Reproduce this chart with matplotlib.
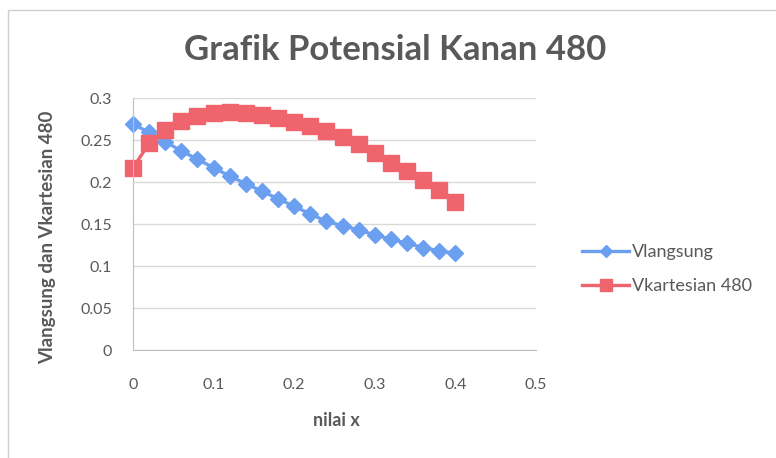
import matplotlib
matplotlib.use("Agg")
import matplotlib.pyplot as plt
from matplotlib.patches import Rectangle

# x positions and the two potential curves
nilai_x = [0.00, 0.02, 0.04, 0.06, 0.08, 0.10, 0.12, 0.14, 0.16, 0.18, 0.20,
           0.22, 0.24, 0.26, 0.28, 0.30, 0.32, 0.34, 0.36, 0.38, 0.40]
vlangsung = [0.269, 0.259, 0.248, 0.237, 0.227, 0.217, 0.207, 0.198, 0.189,
             0.180, 0.171, 0.162, 0.153, 0.148, 0.143, 0.137, 0.132, 0.127,
             0.122, 0.118, 0.115]
vkartesian = [0.217, 0.246, 0.262, 0.273, 0.279, 0.282, 0.283, 0.282, 0.280,
              0.276, 0.271, 0.267, 0.261, 0.254, 0.245, 0.234, 0.223, 0.213,
              0.202, 0.190, 0.176]

x_ticks = [0, 0.1, 0.2, 0.3, 0.4, 0.5]
x_tick_labels = ["0", "0.1", "0.2", "0.3", "0.4", "0.5"]
y_ticks = [0, 0.05, 0.1, 0.15, 0.2, 0.25, 0.3]
y_tick_labels = ["0", "0.05", "0.1", "0.15", "0.2", "0.25", "0.3"]

TEXT = "#595959"
GRID = "#d9d9d9"
BLUE = "#6b9ff0"
RED = "#f0646e"

plt.rcParams["font.family"] = ["Lato", "DejaVu Sans"]

W, H = 776, 458
fig = plt.figure(figsize=(W / 100, H / 100), dpi=100)
fig.patch.set_facecolor("white")

# chart frame
fig.patches.append(Rectangle((8 / W, -0.01), 1.1, 1 - 10 / H + 0.01,
                             transform=fig.transFigure, fill=False,
                             edgecolor="#d0d0d0", linewidth=1.0))

ax = fig.add_axes([133 / W, 1 - 350 / H, (536 - 133) / W, (350 - 98) / H])
ax.set_xlim(0, 0.5)
ax.set_ylim(0, 0.3)
ax.set_xticks(x_ticks)
ax.set_xticklabels(x_tick_labels)
ax.set_yticks(y_ticks)
ax.set_yticklabels(y_tick_labels)
ax.grid(axis="y", color=GRID, linewidth=1.0)
ax.set_axisbelow(True)
for side in ("top", "right"):
    ax.spines[side].set_visible(False)
for side in ("left", "bottom"):
    ax.spines[side].set_color("#bfbfbf")
ax.tick_params(length=0, colors=TEXT, labelsize=11.5)
ax.tick_params(axis="x", pad=20)
ax.tick_params(axis="y", pad=15)

ax.plot(nilai_x, vlangsung, color=BLUE, marker="D", markersize=8,
        linewidth=2.4, label="Vlangsung", clip_on=False)
ax.plot(nilai_x, vkartesian, color=RED, marker="s", markersize=11.5,
        linewidth=2.4, label="Vkartesian 480", clip_on=False)

fig.text(395 / W, 1 - 50 / H, "Grafik Potensial Kanan 480", ha="center",
         va="center", fontsize=25, fontweight="bold", color=TEXT)
fig.text(336 / W, 1 - 421 / H, "nilai x", ha="center", va="center",
         fontsize=13, fontweight="bold", color=TEXT)
fig.text(48 / W, 1 - 237 / H, "Vlangsung dan Vkartesian 480", ha="center",
         va="center", rotation=90, fontsize=13.5, fontweight="bold", color=TEXT)

leg = fig.legend(loc="center left", bbox_to_anchor=(566 / W, 1 - 269 / H),
                 frameon=False, fontsize=13, handlelength=2.6,
                 labelspacing=1.0, handletextpad=0.15, markerscale=0.8)
for t in leg.get_texts():
    t.set_color(TEXT)

fig.savefig("out.png", dpi=100)
